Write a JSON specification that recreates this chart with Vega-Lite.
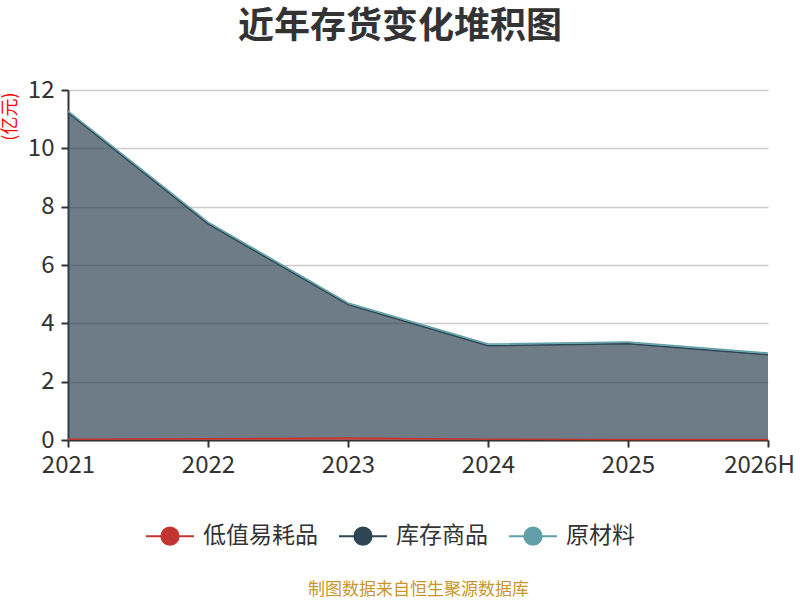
{
  "$schema": "https://vega.github.io/schema/vega-lite/v6.json",
  "autosize": "none",
  "width": 700,
  "height": 350,
  "padding": {"left": 68, "top": 90, "right": 32, "bottom": 160},
  "background": "#ffffff",
  "title": {
    "text": "近年存货变化堆积图",
    "anchor": "middle",
    "dx": -18,
    "offset": 32,
    "fontSize": 36,
    "fontWeight": "bold",
    "color": "#333333",
    "font": "Noto Sans CJK SC"
  },
  "data": {
    "values": [
      {"year": "2021", "type": "低值易耗品", "k": 1, "value": 0.03},
      {"year": "2021", "type": "库存商品", "k": 2, "value": 11.19},
      {"year": "2021", "type": "原材料", "k": 3, "value": 0.06},
      {"year": "2022", "type": "低值易耗品", "k": 1, "value": 0.04},
      {"year": "2022", "type": "库存商品", "k": 2, "value": 7.37},
      {"year": "2022", "type": "原材料", "k": 3, "value": 0.06},
      {"year": "2023", "type": "低值易耗品", "k": 1, "value": 0.07},
      {"year": "2023", "type": "库存商品", "k": 2, "value": 4.57},
      {"year": "2023", "type": "原材料", "k": 3, "value": 0.06},
      {"year": "2024", "type": "低值易耗品", "k": 1, "value": 0.03},
      {"year": "2024", "type": "库存商品", "k": 2, "value": 3.20},
      {"year": "2024", "type": "原材料", "k": 3, "value": 0.06},
      {"year": "2025", "type": "低值易耗品", "k": 1, "value": 0.02},
      {"year": "2025", "type": "库存商品", "k": 2, "value": 3.28},
      {"year": "2025", "type": "原材料", "k": 3, "value": 0.06},
      {"year": "2026H", "type": "低值易耗品", "k": 1, "value": 0.02},
      {"year": "2026H", "type": "库存商品", "k": 2, "value": 2.90},
      {"year": "2026H", "type": "原材料", "k": 3, "value": 0.06}
    ]
  },
  "encoding": {
    "x": {
      "field": "year",
      "type": "ordinal",
      "scale": {"type": "point", "padding": 0},
      "axis": {
        "title": "制图数据来自恒生聚源数据库",
        "titleColor": "#c8962a",
        "titleFontSize": 17,
        "titleFontWeight": "normal",
        "titleFont": "Noto Sans CJK SC",
        "titlePadding": 104,
        "labelAngle": 0,
        "labelFontSize": 24,
        "labelColor": "#333333",
        "labelFont": "Noto Sans CJK SC",
        "labelPadding": 6,
        "labelOffset": {"expr": "datum.label == '2026H' ? -9 : 0"},
        "domainColor": "#333333",
        "domainWidth": 2,
        "tickColor": "#333333",
        "tickWidth": 2,
        "tickSize": 7,
        "grid": false
      }
    },
    "y": {
      "field": "value",
      "type": "quantitative",
      "stack": "zero",
      "scale": {"domain": [0, 12]},
      "axis": {
        "title": "(亿元)",
        "titleColor": "#ff0000",
        "titleFontSize": 18,
        "titleFontWeight": "normal",
        "titleFont": "Noto Sans CJK SC",
        "titleAngle": -90,
        "titleX": -58,
        "titleY": 2,
        "titleAlign": "right",
        "titleBaseline": "middle",
        "values": [0, 2, 4, 6, 8, 10, 12],
        "labelFontSize": 24,
        "labelColor": "#333333",
        "labelFont": "Noto Sans CJK SC",
        "labelPadding": 7,
        "domainColor": "#333333",
        "domainWidth": 2,
        "tickColor": "#333333",
        "tickWidth": 2,
        "tickSize": 7,
        "gridColor": "#cccccc",
        "gridWidth": 1.5
      }
    },
    "color": {
      "field": "type",
      "type": "nominal",
      "scale": {
        "domain": ["低值易耗品", "库存商品", "原材料"],
        "range": ["#c23531", "#2f4554", "#61a0a8"]
      },
      "legend": {
        "title": null,
        "orient": "none",
        "direction": "horizontal",
        "legendX": 77,
        "legendY": 421,
        "symbolType": "M-1,0L-0.36,0M0.36,0L1,0M0.36,0A0.36,0.36,0,1,1,-0.36,0A0.36,0.36,0,1,1,0.36,0Z",
        "symbolSize": 2304,
        "symbolStrokeWidth": 2,
        "symbolOpacity": 1,
        "labelFontSize": 23,
        "labelColor": "#333333",
        "labelFont": "Noto Sans CJK SC",
        "labelOffset": 8,
        "columnPadding": 17,
        "encode": {
          "symbols": {
            "update": {
              "fill": {"scale": "color", "field": "value"},
              "stroke": {"scale": "color", "field": "value"},
              "opacity": {"value": 1}
            }
          }
        }
      }
    },
    "order": {"field": "k", "type": "quantitative"}
  },
  "layer": [
    {"mark": {"type": "area", "opacity": 0.7}},
    {"mark": {"type": "line", "strokeWidth": 1.5}}
  ],
  "config": {
    "view": {"stroke": null},
    "font": "Noto Sans CJK SC"
  }
}
